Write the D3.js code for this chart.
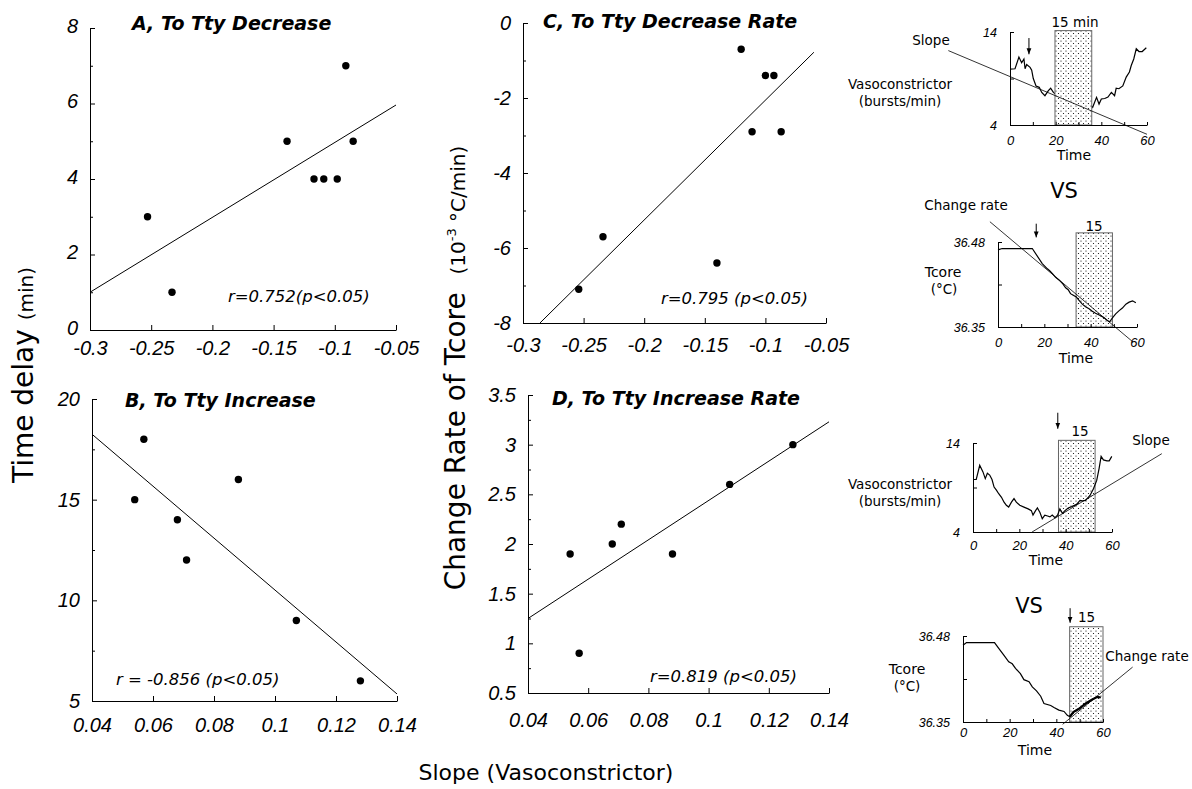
<!DOCTYPE html>
<html>
<head>
<meta charset="utf-8">
<script src="https://cdn.jsdelivr.net/npm/d3@7"></script>
<style>
body { margin: 0; background: #fff; }
svg { display: block; font-family: "DejaVu Sans", sans-serif; }
.axis path, .axis line { stroke: #000; stroke-width: 1; }
.axis text { fill: #000; font-style: italic; }
</style>
</head>
<body>
<svg id="fig" width="1192" height="789"></svg>
<script>
// panel A: time delay to Tty decrease
var slopeA = [-0.253, -0.233, -0.139, -0.117, -0.109, -0.098, -0.091, -0.085];
var delayA = [3, 1, 5, 4, 4, 4, 7, 5];
var fitA = [[-0.3, 1.0], [-0.05, 5.96]];
// panel B: time delay to Tty increase
var slopeB = [0.054, 0.057, 0.068, 0.071, 0.088, 0.107, 0.128];
var delayB = [15, 18, 14, 12, 16, 9, 6];
var fitB = [[0.04, 18.25], [0.14, 5.35]];
// panel C: Tcore change rate, decrease
var slopeC = [-0.254, -0.234, -0.140, -0.120, -0.111, -0.100, -0.093, -0.087];
var rateC = [-7.1, -5.7, -6.4, -0.7, -2.9, -1.4, -1.4, -2.9];
var fitC = [[-0.286, -8], [-0.06, -0.78]];
// panel D: Tcore change rate, increase
var slopeD = [0.054, 0.057, 0.068, 0.071, 0.088, 0.107, 0.128];
var rateD = [1.9, 0.9, 2.0, 2.2, 1.9, 2.6, 3.0];
var fitD = [[0.04, 1.25], [0.14, 3.23]];

var negTicks = [-0.3, -0.25, -0.2, -0.15, -0.1, -0.05];
var negLabels = ['-0.3', '-0.25', '-0.2', '-0.15', '-0.1', '-0.05'];
var posTicks = [0.04, 0.06, 0.08, 0.1, 0.12, 0.14];
var posLabels = ['0.04', '0.06', '0.08', '0.1', '0.12', '0.14'];
var yTicksA = [0, 2, 4, 6, 8];
var yTicksB = [5, 10, 15, 20];
var yTicksC = [-8, -6, -4, -2, 0];
var yTicksD = [0.5, 1, 1.5, 2, 2.5, 3, 3.5];
var yLabelsD = ['0.5', '1', '1.5', '2', '2.5', '3', '3.5'];

var titles = ['A, To Tty Decrease', 'B, To Tty Increase', 'C, To Tty Decrease Rate', 'D, To Tty Increase Rate'];
var rTexts = ['r=0.752(p<0.05)', 'r = -0.856 (p<0.05)', 'r=0.795 (p<0.05)', 'r=0.819 (p<0.05)'];

// inset traces (time in min)
var vcTime1 = [0, 2.2, 3.9, 5.1, 6.1, 6.6, 7.3, 8.8, 9.5, 10.2, 11.4, 12.8, 13.9, 15.3, 16.8, 17.8, 19, 20,
  35.8, 36.2, 37.9, 39, 40, 41.5, 42.9, 44.4, 45.8, 46.5, 47.7, 49.4, 50.9, 52.3, 53.1, 54.2, 55.3, 56.5, 57.9, 59.7];
var vcBurst1 = [10, 10.05, 11.3, 10.7, 11.1, 10.05, 10.5, 10.2, 9.9, 9.0, 8.2, 8.05, 7.5, 7.15, 7.7, 7.95, 7.5, 7.3,
  6.0, 5.9, 6.97, 6.25, 6.8, 6.85, 7.0, 7.5, 7.15, 7.95, 7.9, 8.2, 9.15, 9.7, 10.4, 11.1, 12.2, 11.9, 11.9, 12.3];
var tcTime1 = [0, 1.8, 14.8, 19.1, 21.3, 22.3, 23.4, 24.9, 26.3, 28, 29.2, 30.3, 31.3, 32.3, 33.8, 34.9, 36.4, 37.8,
  39.3, 40.7, 42.1, 43.9, 45.8, 47.2, 48.2, 49.4, 50.8, 52.3, 53.7, 55.2, 56.6, 58.1, 59.5];
var tcTemp1 = [36.468, 36.47, 36.47, 36.447, 36.439, 36.436, 36.432, 36.426, 36.422, 36.416, 36.410, 36.407, 36.401,
  36.399, 36.396, 36.391, 36.385, 36.381, 36.378, 36.374, 36.371, 36.368, 36.364, 36.360, 36.358, 36.364, 36.370,
  36.375, 36.379, 36.385, 36.388, 36.390, 36.387];
var vcTime2 = [0, 1.4, 2.9, 4.3, 5.3, 6.2, 7.2, 8.2, 9.1, 10.1, 11.1, 12.3, 13.4, 14.4, 15.4, 16.6, 17.7, 18.7, 20.2,
  22, 23.8, 25.2, 25.9, 27, 27.8, 28.9, 29.9, 31, 32.2, 33.2, 34.2, 35.4, 36.5, 37.5, 38.6, 39.7, 41.1, 42.6, 44.7,
  46.2, 47.2, 48.6, 50.5, 52, 53.4, 54.4, 55.3, 56.3, 57.8, 58.8, 59.9];
var vcBurst2 = [9.9, 9.9, 11.5, 10.75, 10.0, 10.6, 10.4, 9.9, 9.05, 8.7, 8.3, 7.9, 7.35, 7.0, 6.8, 7.35, 7.75, 7.35,
  7.0, 6.8, 6.6, 6.4, 5.9, 6.4, 6.7, 6.2, 5.5, 5.9, 5.8, 5.7, 5.9, 5.6, 5.9, 6.6, 6.1, 6.4, 6.7, 6.85, 7.1, 7.55,
  7.5, 7.55, 8.1, 8.85, 9.8, 11.1, 12.5, 12.1, 12.0, 12.0, 12.5];
var tcTime2 = [0, 1.5, 13.5, 15.4, 17.5, 19.6, 21.1, 22.5, 24.6, 26.1, 28.3, 29.7, 31.5, 33.3, 34.7, 37.6, 39, 41.1,
  43.3, 44.7, 45.8, 47.3, 49.7, 52.6, 55.4, 57.6, 59];
var tcTemp2 = [36.466, 36.47, 36.47, 36.461, 36.451, 36.441, 36.438, 36.431, 36.423, 36.414, 36.411, 36.403, 36.397,
  36.389, 36.378, 36.375, 36.372, 36.368, 36.366, 36.36, 36.358, 36.365, 36.37, 36.378, 36.384, 36.388, 36.387];

var slopeLine1 = [[-27, 12.0], [60, 3.0]];
var rateLine1 = [[-3.5, 36.511], [58.3, 36.327]];
var slopeLine2 = [[25.5, 4.0], [81.5, 12.8]];
var rateLine2 = [[42.7, 36.3465], [72.7, 36.433]];
var windows = [[19.7, 35.8], [33.7, 49.4], [36.9, 52.7], [45.7, 60]];
var arrowTimes = [8.3, 16.5, 36.6, 45.9];
var timeTicks = [0, 10, 20, 30, 40, 50, 60];

var svg = d3.select('#fig');
svg.append('rect').attr('width', 1192).attr('height', 789).attr('fill', '#fff');

var defs = svg.append('defs');
var pat = defs.append('pattern').attr('id', 'dots')
  .attr('width', 5).attr('height', 5).attr('patternUnits', 'userSpaceOnUse');
pat.append('rect').attr('width', 5).attr('height', 5).attr('fill', '#fff');
pat.append('circle').attr('cx', 1).attr('cy', 1).attr('r', 0.6).attr('fill', '#000');
pat.append('circle').attr('cx', 3.5).attr('cy', 3.5).attr('r', 0.6).attr('fill', '#000');
defs.append('marker').attr('id', 'head').attr('viewBox', '0 0 10 10')
  .attr('refX', 10).attr('refY', 5).attr('markerWidth', 6).attr('markerHeight', 6)
  .attr('orient', 'auto')
  .append('path').attr('d', 'M0,1L10,5L0,9Z').attr('fill', '#000');

function scatter(p) {
  var x = d3.scaleLinear().domain(p.xDom).range([p.left, p.right]);
  var y = d3.scaleLinear().domain(p.yDom).range([p.bottom, p.top]);
  var g = svg.append('g');

  g.append('g').attr('class', 'axis')
    .attr('transform', 'translate(0,' + p.bottom + ')')
    .call(d3.axisBottom(x).tickValues(p.xTicks).tickSize(-5).tickSizeOuter(0)
      .tickPadding(p.xPad).tickFormat(function(d, i) { return p.xLabels[i]; }))
    .selectAll('text').style('font-size', '20px');

  g.append('g').attr('class', 'axis')
    .attr('transform', 'translate(' + p.left + ',0)')
    .call(d3.axisLeft(y).tickValues(p.yTicks).tickSize(-5).tickSizeOuter(0)
      .tickPadding(12).tickFormat(function(d, i) { return p.yLabels[i]; }))
    .selectAll('text').style('font-size', '20px').attr('dy', p.yDy || '0.32em');

  // minor ticks on y
  var minor = g.append('g').attr('class', 'axis')
    .attr('transform', 'translate(' + p.left + ',0)')
    .call(d3.axisLeft(y).tickValues(p.yMinor).tickSize(-3).tickFormat(''));
  minor.select('.domain').remove();

  g.append('line')
    .attr('x1', x(p.fit[0][0])).attr('y1', y(p.fit[0][1]))
    .attr('x2', x(p.fit[1][0])).attr('y2', y(p.fit[1][1]))
    .attr('stroke', '#000').attr('stroke-width', 1);

  g.selectAll('circle.pt')
    .data(p.xs)
    .enter()
    .append('circle')
    .attr('class', 'pt')
    .attr('cx', function(d) { return x(d); })
    .attr('cy', function(d, i) { return y(p.ys[i]); })
    .attr('r', 3.7)
    .attr('fill', '#000');

  g.append('text').attr('x', p.titleX).attr('y', p.titleY)
    .style('font-size', '19px').style('font-weight', 'bold').style('font-style', 'italic')
    .text(p.title);
  g.append('text').attr('x', p.rX).attr('y', p.rY)
    .style('font-size', '16.5px').style('font-style', 'italic')
    .text(p.r);
}

scatter({xs: slopeA, ys: delayA, fit: fitA, xDom: [-0.3, -0.05], yDom: [0, 8],
  left: 90, right: 396, top: 28, bottom: 330, xPad: 11, yDy: '0.22em',
  xTicks: negTicks, xLabels: negLabels, yTicks: yTicksA, yLabels: yTicksA.map(String), yMinor: [1, 3, 5, 7],
  title: titles[0], titleX: 132, titleY: 30, r: rTexts[0], rX: 228, rY: 302});
scatter({xs: slopeB, ys: delayB, fit: fitB, xDom: [0.04, 0.14], yDom: [5, 20],
  left: 92, right: 397, top: 399, bottom: 701, xPad: 17,
  xTicks: posTicks, xLabels: posLabels, yTicks: yTicksB, yLabels: yTicksB.map(String), yMinor: [7.5, 12.5, 17.5],
  title: titles[1], titleX: 125, titleY: 407, r: rTexts[1], rX: 116, rY: 685});
scatter({xs: slopeC, ys: rateC, fit: fitC, xDom: [-0.3, -0.05], yDom: [-8, 0],
  left: 523, right: 826, top: 23, bottom: 323, xPad: 15,
  xTicks: negTicks, xLabels: negLabels, yTicks: yTicksC, yLabels: yTicksC.map(String), yMinor: [-7, -5, -3, -1],
  title: titles[2], titleX: 543, titleY: 28, r: rTexts[2], rX: 661, rY: 304});
scatter({xs: slopeD, ys: rateD, fit: fitD, xDom: [0.04, 0.14], yDom: [0.5, 3.5],
  left: 528, right: 829, top: 395, bottom: 693, xPad: 20,
  xTicks: posTicks, xLabels: posLabels, yTicks: yTicksD, yLabels: yLabelsD, yMinor: [0.75, 1.25, 1.75, 2.25, 2.75, 3.25],
  title: titles[3], titleX: 552, titleY: 405, r: rTexts[3], rX: 650, rY: 682});

// axis titles
var tl = svg.append('text').attr('transform', 'translate(33,375) rotate(-90)').attr('text-anchor', 'middle');
tl.append('tspan').style('font-size', '28px').text('Time delay\u00a0');
tl.append('tspan').style('font-size', '20px').text('(min)');

var tc = svg.append('text').attr('transform', 'translate(465,368) rotate(-90)').attr('text-anchor', 'middle');
tc.append('tspan').style('font-size', '28px').text('Change Rate of Tcore\u00a0\u00a0');
tc.append('tspan').style('font-size', '20px').text('(10');
tc.append('tspan').style('font-size', '13px').attr('dy', -9).text('-3');
tc.append('tspan').style('font-size', '20px').attr('dy', 9).text('\u00a0\u00b0C/min)');

svg.append('text').attr('x', 546).attr('y', 780).attr('text-anchor', 'middle')
  .style('font-size', '22px').text('Slope (Vasoconstrictor)');

// insets
function inset(p) {
  var x = d3.scaleLinear().domain([0, 60]).range([p.x0, p.x1]);
  var y = d3.scaleLinear().domain(p.yDom).range([p.bottom, p.top]);
  var g = svg.append('g');
  var line = d3.line().x(function(d) { return x(d[0]); }).y(function(d) { return y(d[1]); });
  var pts = p.times.map(function(t, i) { return [t, p.vals[i]]; });

  if (p.traceUnder) g.append('path').attr('d', line(pts)).attr('fill', 'none').attr('stroke', '#000').attr('stroke-width', 1.2);

  g.append('rect')
    .attr('x', x(p.win[0])).attr('y', y(p.boxTop))
    .attr('width', x(p.win[1]) - x(p.win[0])).attr('height', y(p.yDom[0]) - y(p.boxTop))
    .attr('fill', 'url(#dots)').attr('stroke', '#666').attr('stroke-width', 1);

  if (!p.traceUnder) g.append('path').attr('d', line(pts)).attr('fill', 'none').attr('stroke', '#000').attr('stroke-width', 1.2);
  if (p.bold) {
    g.append('path').attr('d', line(pts.filter(function(d) { return d[0] >= p.bold; })))
      .attr('fill', 'none').attr('stroke', '#000').attr('stroke-width', 2.2);
  }

  g.append('line')
    .attr('x1', x(p.fitLine[0][0])).attr('y1', y(p.fitLine[0][1]))
    .attr('x2', x(p.fitLine[1][0])).attr('y2', y(p.fitLine[1][1]))
    .attr('stroke', '#000').attr('stroke-width', 0.8);

  var xa = g.append('g').attr('class', 'axis').attr('transform', 'translate(0,' + p.bottom + ')')
    .call(d3.axisBottom(x).tickValues(timeTicks).tickSize(-3).tickSizeOuter(0).tickPadding(p.xPad)
      .tickFormat(function(d) { return d % 20 === 0 ? d : ''; }));
  xa.selectAll('text').style('font-size', '13px');
  xa.select('.domain').attr('stroke-width', 1.6);

  var mid = (p.yDom[0] + p.yDom[1]) / 2;
  var ya = g.append('g').attr('class', 'axis').attr('transform', 'translate(' + p.x0 + ',0)')
    .call(d3.axisLeft(y).tickValues([p.yDom[0], mid, p.yDom[1]]).tickSize(-4).tickSizeOuter(0).tickPadding(13)
      .tickFormat(function(d, i) { return i === 1 ? '' : p.yLabels[i / 2]; }));
  ya.selectAll('text').style('font-size', '12.5px');
  ya.select('.domain').attr('stroke-width', 1.6);

  g.append('line')
    .attr('x1', x(p.arrowT)).attr('x2', x(p.arrowT))
    .attr('y1', y(p.arrowV[0])).attr('y2', y(p.arrowV[1]))
    .attr('stroke', '#000').attr('stroke-width', 1).attr('marker-end', 'url(#head)');

  p.labels.forEach(function(l) {
    g.append('text').attr('x', l[0]).attr('y', l[1]).attr('text-anchor', l[3] || 'middle')
      .style('font-size', l[4] || '13.5px').text(l[2]);
  });
}

inset({times: vcTime1, vals: vcBurst1, yDom: [4, 14], yLabels: ['4', '14'], x0: 1010, x1: 1147, top: 32, bottom: 125,
  win: windows[0], boxTop: 14.15, fitLine: slopeLine1, traceUnder: true, xPad: 11,
  arrowT: arrowTimes[0], arrowV: [13.35, 11.6],
  labels: [[931, 45, 'Slope'], [900, 89, 'Vasoconstrictor'], [900, 106, '(bursts/min)'],
    [1075, 27, '15 min'], [1074, 160, 'Time', 'middle', '14px'], [1064, 198, 'VS', 'middle', '21px']]});
inset({times: tcTime1, vals: tcTemp1, yDom: [36.35, 36.48], yLabels: ['36.35', '36.48'], x0: 998, x1: 1137, top: 242, bottom: 327,
  win: windows[1], boxTop: 36.494, fitLine: rateLine1, traceUnder: false, xPad: 11,
  arrowT: arrowTimes[1], arrowV: [36.508, 36.487],
  labels: [[966, 210, 'Change rate'], [1094, 231, '15'], [943, 277, 'Tcore', 'middle', '14px'],
    [944, 294, '(\u00b0C)'], [1076, 363, 'Time', 'middle', '14px']]});
inset({times: vcTime2, vals: vcBurst2, yDom: [4, 14], yLabels: ['4', '14'], x0: 973, x1: 1112, top: 443, bottom: 532,
  win: windows[2], boxTop: 14.3, fitLine: slopeLine2, traceUnder: false, xPad: 9,
  arrowT: arrowTimes[2], arrowV: [17.4, 15.6],
  labels: [[1080, 436, '15'], [1151, 445, 'Slope'], [900, 489, 'Vasoconstrictor'],
    [900, 506, '(bursts/min)'], [1046, 565, 'Time', 'middle', '14px']]});
inset({times: tcTime2, vals: tcTemp2, yDom: [36.35, 36.48], yLabels: ['36.35', '36.48'], x0: 963, x1: 1103, top: 636, bottom: 722,
  win: windows[3], boxTop: 36.494, fitLine: rateLine2, traceUnder: false, xPad: 6, bold: 45.8,
  arrowT: arrowTimes[3], arrowV: [36.522, 36.5],
  labels: [[1029, 613, 'VS', 'middle', '21px'], [1078, 622, '15', 'start'], [1147, 661, 'Change rate'],
    [907, 674, 'Tcore', 'middle', '14px'], [907, 691, '(\u00b0C)'], [1035, 755, 'Time', 'middle', '14px']]});
</script>
</body>
</html>
